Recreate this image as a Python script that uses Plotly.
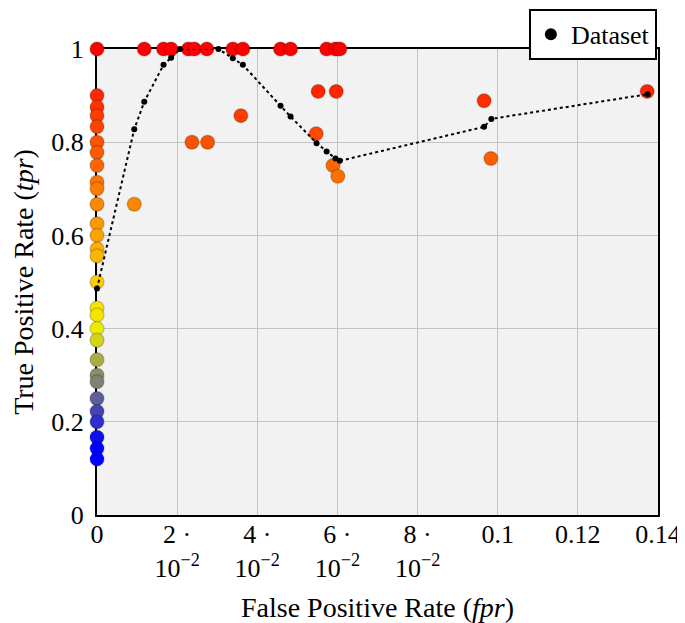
import plotly.graph_objects as go

# Scatter points (fpr, tpr)
axis_tpr = [1.0, 0.9, 0.875, 0.857, 0.833, 0.8, 0.778, 0.75, 0.714, 0.7, 0.667,
            0.625, 0.6, 0.571, 0.556, 0.5, 0.444, 0.429, 0.4, 0.375, 0.333, 0.3,
            0.286, 0.25, 0.222, 0.2, 0.167, 0.143, 0.12]
top_fpr = [0.0118, 0.0166, 0.0185, 0.0228, 0.0243, 0.0274, 0.0339, 0.0364,
           0.0458, 0.0483, 0.0573, 0.0595, 0.0606]
other_fpr = [0.0093, 0.0237, 0.0276, 0.0359, 0.0552, 0.0597, 0.0547, 0.0589,
             0.0601, 0.0966, 0.0983, 0.1373]
other_tpr = [0.667, 0.8, 0.8, 0.857, 0.909, 0.909, 0.818, 0.75,
             0.727, 0.889, 0.765, 0.909]

fpr = [0.0] * len(axis_tpr) + top_fpr + other_fpr
tpr = axis_tpr + [1.0] * len(top_fpr) + other_tpr

# Dotted curve
curve_fpr = [0.0, 0.0093, 0.0118, 0.0166, 0.0185, 0.0207, 0.0303, 0.0339, 0.0364,
             0.0458, 0.0483, 0.0548, 0.0573, 0.0595, 0.0606, 0.0966, 0.0984, 0.1374]
curve_tpr = [0.486, 0.828, 0.887, 0.966, 0.981, 1.0, 1.0, 0.98, 0.966,
             0.878, 0.855, 0.798, 0.78, 0.765, 0.76, 0.833, 0.85, 0.903]

x_tickvals = [0, 0.02, 0.04, 0.06, 0.08, 0.1, 0.12, 0.14]
x_ticktext = ["0", "2 ·<br>10<sup>−2</sup>", "4 ·<br>10<sup>−2</sup>",
              "6 ·<br>10<sup>−2</sup>", "8 ·<br>10<sup>−2</sup>", "0.1", "0.12", "0.14"]
y_tickvals = [0, 0.2, 0.4, 0.6, 0.8, 1]
y_ticktext = ["0", "0.2", "0.4", "0.6", "0.8", "1"]

colorscale = [
    [0.0, "rgb(0,0,255)"],
    [0.034, "rgb(0,0,255)"],
    [0.318, "rgb(235,235,0)"],
    [0.375, "rgb(250,225,0)"],
    [1.0, "rgb(255,0,0)"],
]

FONT = "Liberation Serif"

fig = go.Figure()
fig.add_trace(go.Scatter(
    x=fpr, y=tpr, mode="markers", showlegend=False, cliponaxis=False,
    marker=dict(size=14, color=tpr, colorscale=colorscale, cmin=0.12, cmax=1.0,
                line=dict(color="rgba(0,0,0,0.18)", width=1.5), opacity=1),
))
fig.add_trace(go.Scatter(
    x=curve_fpr, y=curve_tpr, mode="lines", showlegend=False, cliponaxis=False,
    line=dict(color="black", width=2, dash="dot"),
))
fig.add_trace(go.Scatter(
    x=curve_fpr, y=curve_tpr, mode="markers", name="Dataset", cliponaxis=False,
    marker=dict(size=6, color="black"),
))

# the page body adds an 8px offset; the figure is sized to fill the rest of the window
fig.update_layout(
    width=677, height=615,
    margin=dict(l=89, r=27, t=41, b=108, autoexpand=False),
    paper_bgcolor="white", plot_bgcolor="#f2f2f2",
    font=dict(family=FONT, size=26, color="black"),
    legend=dict(x=0.998, xanchor="right", y=1.086, yanchor="top",
                bordercolor="black", borderwidth=2, bgcolor="white",
                font=dict(size=26), itemsizing="constant", itemwidth=30,
                tracegroupgap=0),
    xaxis=dict(range=[0, 0.14], tickvals=x_tickvals, ticktext=x_ticktext,
               showline=True, linecolor="black", linewidth=2, mirror=True,
               showgrid=True, gridcolor="#c4c4c4", gridwidth=1.2,
               zeroline=False, ticks="", ticklen=0, ticklabelstandoff=-5,
               layer="below traces", automargin=False,
               title=dict(text="False Positive Rate (<i>fpr</i>)", font=dict(size=28)),
               tickfont=dict(size=26)),
    yaxis=dict(range=[0, 1], tickvals=y_tickvals, ticktext=y_ticktext,
               showline=True, linecolor="black", linewidth=2, mirror=True,
               showgrid=True, gridcolor="#c4c4c4", gridwidth=1.2,
               zeroline=False, ticks="", ticklen=0, ticklabelstandoff=6,
               layer="below traces", automargin=False,
               title=dict(text="True Positive Rate (<i>tpr</i>)", font=dict(size=28)),
               tickfont=dict(size=26)),
)

fig.write_html("out.html")
